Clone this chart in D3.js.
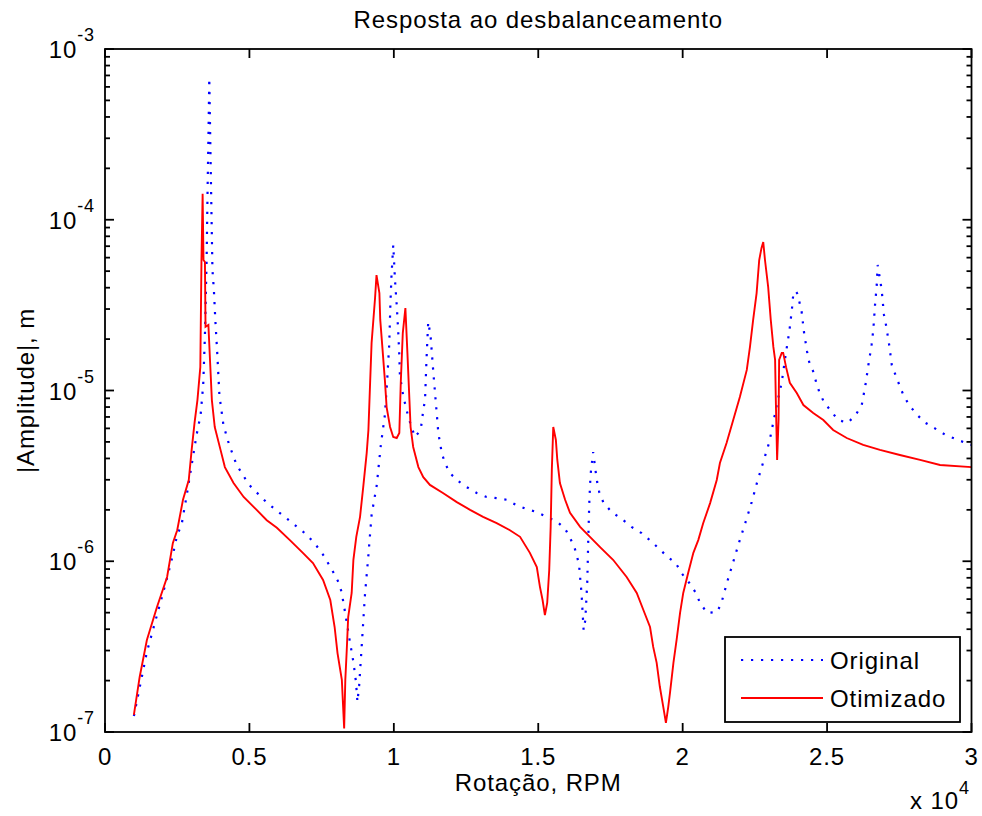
<!DOCTYPE html>
<html><head><meta charset="utf-8">
<script src="https://cdn.jsdelivr.net/npm/d3@7/dist/d3.min.js"></script>
<style>body{margin:0;background:#fff}text{font-family:"Liberation Sans",Arial,sans-serif;fill:#000}</style>
</head><body><svg id="c" width="982" height="816"></svg>
<script>
// ---- data (rotation in RPM, |amplitude| in m) ----
const rpmOriginal=[1000,1450,1800,2150,2350,2500,2650,2830,3000,3170,3310,3400,3460,3520,3550,3580,3610,3650,3690,3720,3770,3820,3890,3960,4100,4300,4560,4990,5620,6310,6920,7210,7500,7700,7900,8080,8190,8310,8480,8600,8690,8740,8800,8890,9000,9120,9230,9410,9550,9690,9770,9840,9880,9920,9980,10040,10100,10150,10190,10210,10330,10420,10500,10730,10930,11020,11080,11130,11190,11270,11370,11470,11540,11660,11770,11940,12180,12520,12870,13210,13560,13910,14250,14600,14950,15290,15660,15930,16120,16270,16410,16500,16570,16630,16700,16730,16770,16810,16900,16990,17040,17110,17250,17540,17890,18230,18580,18930,19190,19480,19760,19960,20230,20460,20600,20850,21200,21350,21540,21750,21960,22180,22390,22580,22790,23000,23140,23280,23430,23580,23690,23780,23830,23910,23980,24120,24200,24310,24380,24530,24620,24730,24890,25160,25390,25710,25990,26200,26330,26430,26540,26600,26660,26720,26750,26810,26890,26970,27040,27150,27240,27370,27500,27640,27840,28120,28410,28760,29100,29450,29800,30000];
const ampOriginal=[1.24e-7,2.94e-7,4.84e-7,7.98e-7,1.09e-6,1.43e-6,1.63e-6,2.44e-6,3.66e-6,5.49e-6,7.19e-6,1.08e-5,2.11e-5,6.05e-5,1.44e-4,2.93e-4,6.76e-4,2.56e-4,9.97e-5,5.08e-5,3.88e-5,2.59e-5,1.61e-5,9.42e-6,6.28e-6,4.80e-6,3.66e-6,2.80e-6,2.19e-6,1.77e-6,1.46e-6,1.30e-6,1.13e-6,9.90e-7,8.65e-7,7.56e-7,6.61e-7,5.05e-7,3.37e-7,2.57e-7,1.96e-7,1.50e-7,1.88e-7,3.24e-7,6.34e-7,1.09e-6,1.87e-6,2.80e-6,4.80e-6,7.19e-6,1.15e-5,1.85e-5,3.17e-5,4.74e-5,7.11e-5,4.43e-5,3.17e-5,2.26e-5,1.61e-5,1.23e-5,9.16e-6,8.00e-6,7.00e-6,5.34e-6,5.87e-6,7.69e-6,8.79e-6,1.51e-5,2.52e-5,2.11e-5,1.26e-5,7.91e-6,5.64e-6,4.30e-6,3.76e-6,3.29e-6,2.99e-6,2.72e-6,2.51e-6,2.38e-6,2.34e-6,2.29e-6,2.13e-6,2.02e-6,1.94e-6,1.82e-6,1.70e-6,1.55e-6,1.35e-6,1.18e-6,9.64e-7,6.43e-7,3.95e-7,4.53e-7,7.76e-7,1.33e-6,2.29e-6,3.20e-6,4.36e-6,3.33e-6,2.91e-6,2.55e-6,2.22e-6,1.94e-6,1.77e-6,1.59e-6,1.46e-6,1.30e-6,1.18e-6,1.06e-6,9.77e-7,8.53e-7,7.46e-7,6.52e-7,5.70e-7,4.98e-7,5.05e-7,5.77e-7,7.56e-7,9.90e-7,1.30e-6,1.70e-6,2.22e-6,2.91e-6,3.81e-6,4.99e-6,6.54e-6,8.57e-6,1.12e-5,1.68e-5,2.20e-5,2.96e-5,3.67e-5,3.83e-5,3.67e-5,2.88e-5,2.20e-5,1.68e-5,1.47e-5,1.28e-5,1.12e-5,9.80e-6,8.57e-6,7.48e-6,6.71e-6,6.46e-6,7.19e-6,8.22e-6,1.08e-5,1.41e-5,1.85e-5,2.26e-5,3.17e-5,4.15e-5,5.43e-5,4.74e-5,3.88e-5,2.77e-5,2.42e-5,1.85e-5,1.41e-5,1.23e-5,1.08e-5,9.42e-6,8.22e-6,7.19e-6,6.46e-6,5.96e-6,5.49e-6,5.20e-6,4.93e-6,4.80e-6];
const rpmOtimizado=[1000,1200,1450,1800,2150,2350,2500,2700,2900,3000,3100,3200,3300,3340,3380,3410,3460,3480,3580,3640,3700,3800,4000,4150,4450,4800,5250,5600,5950,6400,6850,7200,7550,7800,7950,8050,8200,8280,8320,8370,8420,8540,8600,8700,8830,8940,9060,9120,9170,9230,9350,9400,9500,9530,9610,9690,9750,9870,9980,10100,10190,10240,10310,10400,10470,10540,10580,10670,10850,11020,11250,11700,12180,12640,13090,13560,14020,14370,14710,14950,15060,15150,15230,15310,15380,15430,15470,15520,15610,15660,15750,15930,16100,16450,16790,17140,17590,18060,18410,18640,18870,18980,19100,19210,19330,19420,19500,19560,19680,19790,19910,20020,20190,20370,20540,20710,20950,21180,21290,21520,21750,21980,22220,22330,22440,22560,22650,22730,22790,22850,22960,23050,23140,23200,23230,23270,23320,23340,23430,23480,23580,23710,23950,24180,24520,24870,25210,25680,26250,26830,27520,28220,28910,30000];
const ampOtimizado=[1.26e-7,2.10e-7,3.46e-7,5.40e-7,8.09e-7,1.28e-6,1.52e-6,2.29e-6,2.99e-6,4.49e-6,6.46e-6,8.79e-6,1.37e-5,5.81e-5,1.42e-4,5.81e-5,5.66e-5,2.36e-5,2.42e-5,1.45e-5,8.79e-6,6.11e-6,4.49e-6,3.56e-6,2.87e-6,2.38e-6,2.00e-6,1.74e-6,1.57e-6,1.33e-6,1.12e-6,9.77e-7,7.77e-7,5.93e-7,4.12e-7,2.90e-7,2.02e-7,1.05e-7,2.02e-7,3.02e-7,4.71e-7,6.52e-7,1.02e-6,1.39e-6,1.82e-6,2.72e-6,4.30e-6,5.87e-6,1.01e-5,1.90e-5,3.48e-5,4.74e-5,3.72e-5,2.59e-5,1.73e-5,1.15e-5,8.00e-6,6.11e-6,5.34e-6,5.27e-6,5.64e-6,1.11e-5,2.17e-5,3.04e-5,1.66e-5,8.79e-6,6.11e-6,4.67e-6,3.56e-6,3.11e-6,2.80e-6,2.51e-6,2.22e-6,2.00e-6,1.82e-6,1.67e-6,1.52e-6,1.39e-6,1.12e-6,9.25e-7,7.06e-7,5.93e-7,4.84e-7,5.70e-7,8.89e-7,1.59e-6,3.42e-6,6.11e-6,5.13e-6,3.92e-6,2.87e-6,2.29e-6,1.92e-6,1.59e-6,1.39e-6,1.21e-6,1.02e-6,8.09e-7,6.52e-7,5.18e-7,4.12e-7,3.15e-7,2.54e-7,1.84e-7,1.40e-7,1.13e-7,1.40e-7,1.69e-7,2.54e-7,3.46e-7,4.98e-7,6.52e-7,8.53e-7,1.12e-6,1.33e-6,1.67e-6,2.19e-6,2.99e-6,3.76e-6,4.93e-6,6.71e-6,9.16e-6,1.32e-5,1.80e-5,2.59e-5,3.72e-5,5.81e-5,6.84e-5,7.41e-5,5.81e-5,4.04e-5,2.59e-5,1.80e-5,1.51e-5,8.00e-6,3.92e-6,6.71e-6,1.51e-5,1.66e-5,1.66e-5,1.37e-5,1.11e-5,9.66e-6,8.22e-6,7.38e-6,6.71e-6,5.87e-6,5.27e-6,4.80e-6,4.49e-6,4.19e-6,3.92e-6,3.66e-6,3.56e-6];
const xTickValues=[0,5000,10000,15000,20000,25000,30000];
const xTickLabels=["0","0.5","1","1.5","2","2.5","3"];
const yTickExponents=[-7,-6,-5,-4,-3];
const seriesNames=["Original","Otimizado"];
const chartTitle="Resposta ao desbalanceamento";
const xLabel="Rotação, RPM";
const yLabel="|Amplitude|, m";

// ---- layout ----
const L=105,R=971.5,T=49,B=732;
const svg=d3.select("#c");
const x=d3.scaleLinear().domain([0,30000]).range([L,R]);
const y=d3.scaleLog().domain([1e-7,1e-3]).range([B,T]);
const FS=24, LS="0.9px";

svg.append("defs").append("clipPath").attr("id","clip")
  .append("rect").attr("x",L).attr("y",T).attr("width",R-L).attr("height",B-T);

const line=d3.line().x(d=>x(d[0])).y(d=>y(d[1]));
const orig=rpmOriginal.map((r,i)=>[r,ampOriginal[i]]);
const otim=rpmOtimizado.map((r,i)=>[r,ampOtimizado[i]]);
const g=svg.append("g").attr("clip-path","url(#clip)");
g.append("path").attr("d",line(orig)).attr("fill","none").attr("stroke","#0000ff")
  .attr("stroke-width",2.2).attr("stroke-dasharray","2.2,7.8");
g.append("path").attr("d",line(otim)).attr("fill","none").attr("stroke","#ff0000")
  .attr("stroke-width",1.9).attr("stroke-linejoin","miter");

// ---- axes box and ticks ----
const ax=svg.append("g").attr("stroke","#000").attr("stroke-width",1.8);
ax.append("rect").attr("x",L).attr("y",T).attr("width",R-L).attr("height",B-T).attr("fill","none");
xTickValues.forEach(v=>{
  ax.append("line").attr("x1",x(v)).attr("x2",x(v)).attr("y1",B).attr("y2",B-9);
  ax.append("line").attr("x1",x(v)).attr("x2",x(v)).attr("y1",T).attr("y2",T+9);
});
yTickExponents.forEach(e=>{
  const v=Math.pow(10,e);
  ax.append("line").attr("x1",L).attr("x2",L+9).attr("y1",y(v)).attr("y2",y(v));
  ax.append("line").attr("x1",R).attr("x2",R-9).attr("y1",y(v)).attr("y2",y(v));
  if(e<-3){
    for(let k=2;k<=9;k++){
      const m=k*v;
      ax.append("line").attr("x1",L).attr("x2",L+5).attr("y1",y(m)).attr("y2",y(m));
      ax.append("line").attr("x1",R).attr("x2",R-5).attr("y1",y(m)).attr("y2",y(m));
    }
  }
});

// ---- tick labels ----
xTickValues.forEach((v,i)=>{
  svg.append("text").attr("x",x(v)).attr("y",765).attr("text-anchor","middle")
    .attr("font-size",FS).style("letter-spacing",LS).text(xTickLabels[i]);
});
yTickExponents.forEach(e=>{
  const yy=y(Math.pow(10,e));
  const t=svg.append("text").attr("x",95).attr("y",yy+9).attr("text-anchor","end")
    .attr("font-size",FS).style("letter-spacing",LS);
  t.append("tspan").text("10");
  t.append("tspan").attr("dy",-17).attr("font-size",18).text(String(e));
});

// ---- titles ----
svg.append("text").attr("x",(L+R)/2).attr("y",28).attr("text-anchor","middle")
  .attr("font-size",FS).style("letter-spacing",LS).text(chartTitle);
svg.append("text").attr("x",(L+R)/2).attr("y",791).attr("text-anchor","middle")
  .attr("font-size",FS).style("letter-spacing",LS).text(xLabel);
svg.append("text").attr("transform",`translate(34,${(T+B)/2}) rotate(-90)`).attr("text-anchor","middle")
  .attr("font-size",FS).style("letter-spacing",LS).text(yLabel);
const ex=svg.append("text").attr("x",970).attr("y",809).attr("text-anchor","end")
  .attr("font-size",FS).style("letter-spacing",LS);
ex.append("tspan").text("x 10");
ex.append("tspan").attr("dy",-15).attr("font-size",18).text("4");

// ---- legend ----
const lg=svg.append("g");
lg.append("rect").attr("x",725).attr("y",637).attr("width",235).attr("height",85)
  .attr("fill","#fff").attr("stroke","#000").attr("stroke-width",1.8);
const rows=[{name:seriesNames[0],col:"#0000ff",dash:"2.2,7.8",w:2.2,yy:660},
            {name:seriesNames[1],col:"#ff0000",dash:null,w:1.9,yy:698}];
rows.forEach(r=>{
  lg.append("line").attr("x1",741).attr("x2",823).attr("y1",r.yy).attr("y2",r.yy)
    .attr("stroke",r.col).attr("stroke-width",r.w).attr("stroke-dasharray",r.dash);
  lg.append("text").attr("x",830).attr("y",r.yy+8.5).attr("font-size",FS)
    .style("letter-spacing",LS).text(r.name);
});
</script></body></html>
